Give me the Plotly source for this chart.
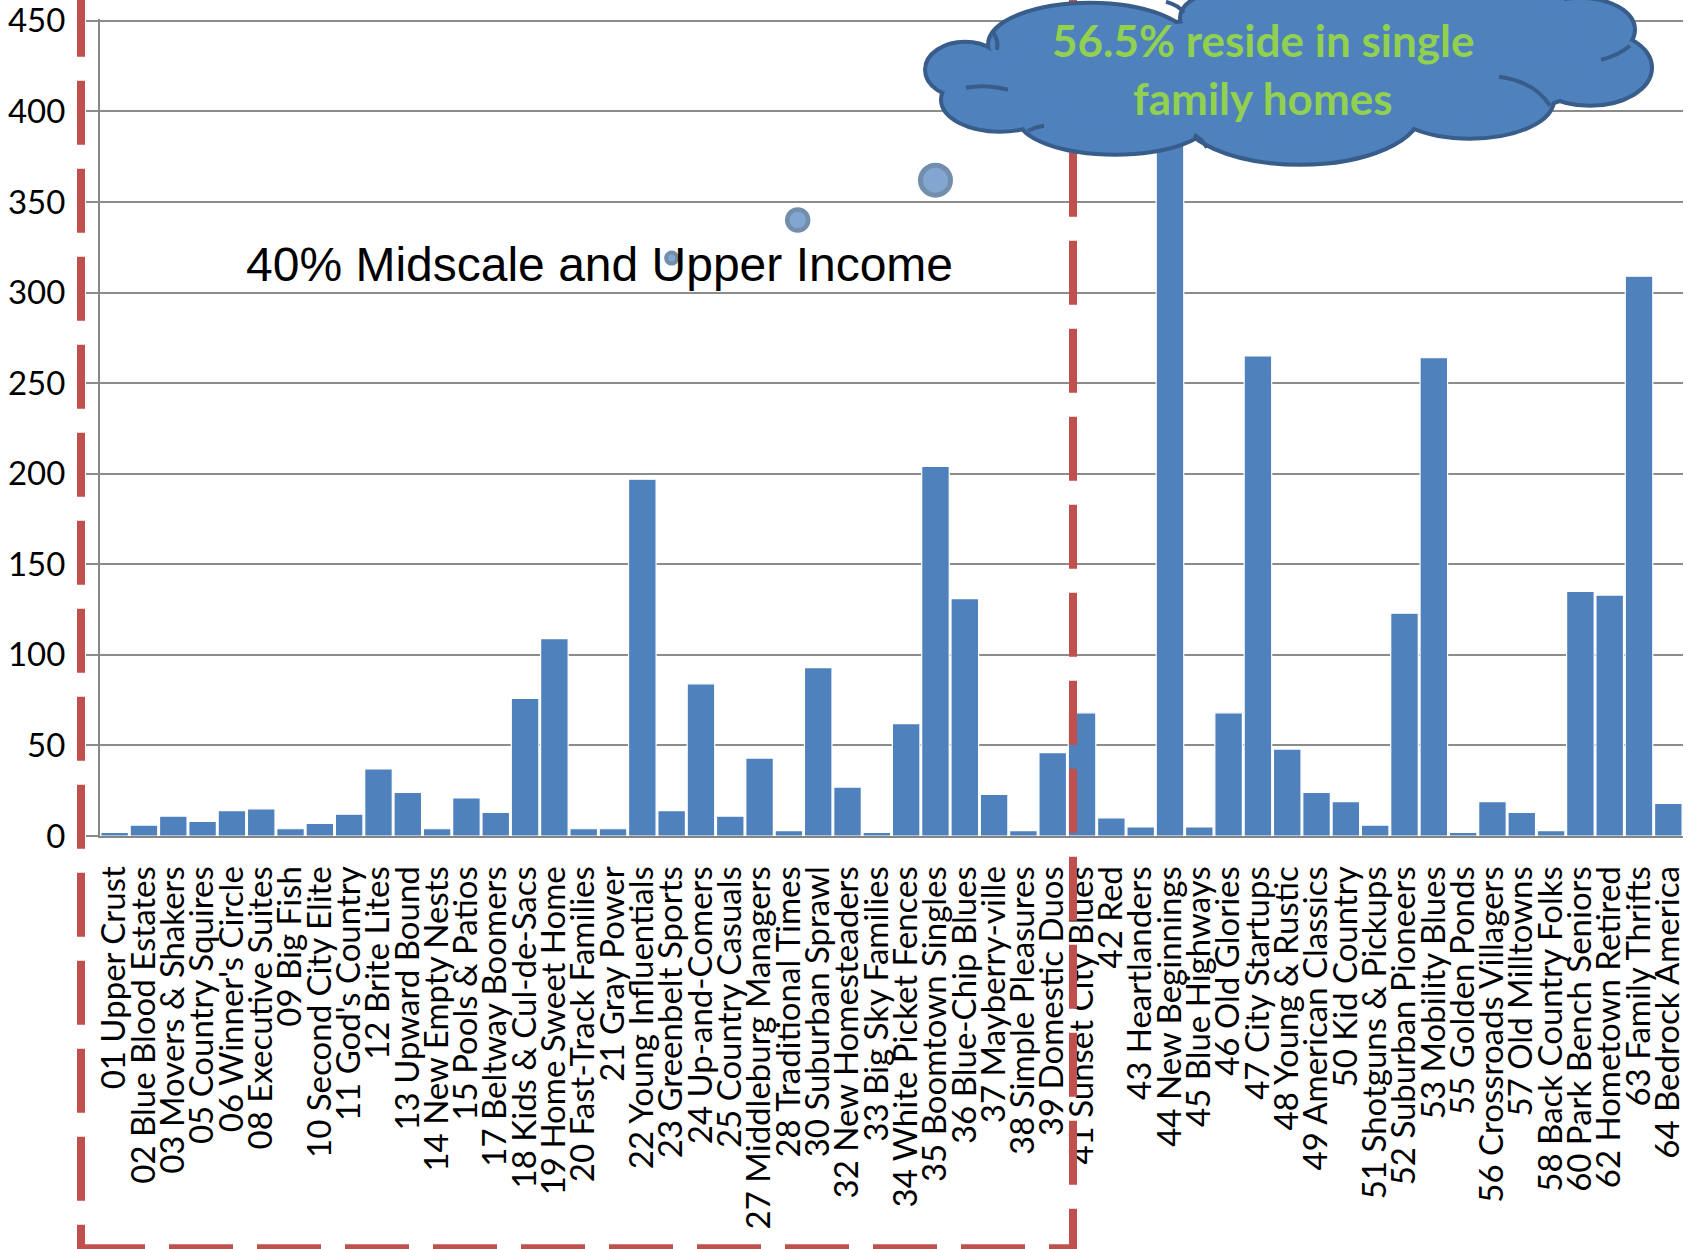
import plotly.graph_objects as go

# ---------------- data ----------------
segments = [
    "01 Upper Crust", "02 Blue Blood Estates", "03 Movers & Shakers", "05 Country Squires",
    "06 Winner's Circle", "08 Executive Suites", "09 Big Fish", "10 Second City Elite",
    "11 God's Country", "12 Brite Lites", "13 Upward Bound", "14 New Empty Nests",
    "15 Pools & Patios", "17 Beltway Boomers", "18 Kids & Cul-de-Sacs", "19 Home Sweet Home",
    "20 Fast-Track Families", "21 Gray Power", "22 Young Influentials", "23 Greenbelt Sports",
    "24 Up-and-Comers", "25 Country Casuals", "27 Middleburg Managers", "28 Traditional Times",
    "30 Suburban Sprawl", "32 New Homesteaders", "33 Big Sky Families", "34 White Picket Fences",
    "35 Boomtown Singles", "36 Blue-Chip Blues", "37 Mayberry-ville", "38 Simple Pleasures",
    "39 Domestic Duos", "41 Sunset City Blues", "42 Red", "43 Heartlanders",
    "44 New Beginnings", "45 Blue Highways", "46 Old Glories", "47 City Startups",
    "48 Young & Rustic", "49 American Classics", "50 Kid Country", "51 Shotguns & Pickups",
    "52 Suburban Pioneers", "53 Mobility Blues", "55 Golden Ponds", "56 Crossroads Villagers",
    "57 Old Milltowns", "58 Back Country Folks", "60 Park Bench Seniors", "62 Hometown Retired",
    "63 Family Thrifts", "64 Bedrock America",
]
households = [
    2, 6, 11, 8, 14, 15, 4, 7, 12, 37,
    24, 4, 21, 13, 76, 109, 4, 4, 197, 14,
    84, 11, 43, 3, 93, 27, 2, 62, 204, 131,
    23, 3, 46, 68, 10, 5, 430, 5, 68, 265,
    48, 24, 19, 6, 123, 264, 2, 19, 13, 3,
    135, 133, 309, 18,
]
bubble_x = [19.0, 23.3, 28.0]
bubble_y = [319, 340, 362]
bubble_size = [11, 21, 30]
y_ticks = [0, 50, 100, 150, 200, 250, 300, 350, 400, 450]

left_label = "40% Midscale and Upper Income"
cloud_line1 = "56.5% reside in single"
cloud_line2 = "family homes"

# ---------------- geometry helpers ----------------
W, H = 1703, 1249
ML, MR, MT, MB = 100, 20, 19.2, 412.5
PW = W - ML - MR
PH = H - MT - MB


def px(x):
    return (x - ML) / PW


def py(y):
    return (H - MB - y) / PH


BLUE = "#4F81BD"
DARK = "#385D8A"
RED = "#C0504D"
GRID = "#8C8C8C"

fig = go.Figure()
fig.add_trace(go.Bar(
    x=list(range(len(segments))), y=households,
    marker=dict(color=BLUE, line=dict(color="white", width=1.2)),
    width=0.94, showlegend=False, hoverinfo="x+y",
))
fig.add_trace(go.Scatter(
    x=bubble_x, y=bubble_y, mode="markers",
    marker=dict(size=bubble_size, color=BLUE, line=dict(color=DARK, width=[4, 4.5, 5])),
    showlegend=False, cliponaxis=False,
))

shapes = []
# red dashed frame
dash = "64px,24px"
shapes.append(dict(type="line", xref="paper", yref="paper", x0=px(81), x1=px(81), y0=py(-7), y1=py(1253),
                   line=dict(color=RED, width=8, dash=dash)))
shapes.append(dict(type="line", xref="paper", yref="paper", x0=px(81), x1=px(1077), y0=py(1249), y1=py(1249),
                   line=dict(color=RED, width=8, dash=dash)))
shapes.append(dict(type="line", xref="paper", yref="paper", x0=px(1073), x1=px(1073), y0=py(-23), y1=py(1253),
                   line=dict(color=RED, width=8, dash=dash)))

# cloud made of ellipses: stroke layer, then fill layer
lobes = [
    (965, 70, 38, 26), (1000, 100, 57, 30), (1115, 118, 95, 35), (1300, 110, 120, 53),
    (1470, 100, 82, 37), (1590, 68, 60, 36), (1580, 30, 53, 30), (1090, 45, 100, 40),
    (1242, 18, 60, 28), (1357, 12, 62, 30), (1490, 12, 80, 30), (1290, 75, 300, 55),
    (1380, 30, 200, 40),
]
for cx, cy, rx, ry in lobes:
    shapes.append(dict(type="circle", xref="paper", yref="paper",
                       x0=px(cx - rx), x1=px(cx + rx), y0=py(cy + ry), y1=py(cy - ry),
                       fillcolor=BLUE, line=dict(color=DARK, width=8)))
for cx, cy, rx, ry in lobes:
    shapes.append(dict(type="circle", xref="paper", yref="paper",
                       x0=px(cx - rx), x1=px(cx + rx), y0=py(cy + ry), y1=py(cy - ry),
                       fillcolor=BLUE, line=dict(width=0)))
inner_arcs = [
    ((992, 31), (999, 40), (997, 50)),
    ((1166, 2), (1178, 5), (1184, 13)),
    ((1601, 60), (1618, 56), (1630, 46)),
    ((1499, 77), (1535, 82), (1550, 106)),
    ((1194, 135), (1202, 139), (1207, 148)),
    ((1028, 131), (1036, 127), (1044, 126)),
    ((966, 88), (985, 84), (1008, 90)),
]
for (x0, y0), (cx, cy), (x1, y1) in inner_arcs:
    path = f"M {px(x0)},{py(y0)} Q {px(cx)},{py(cy)} {px(x1)},{py(y1)}"
    shapes.append(dict(type="path", xref="paper", yref="paper", path=path,
                       line=dict(color=DARK, width=4)))

annotations = [
    dict(text=left_label, xref="paper", yref="paper", x=px(244), y=py(264.5),
         xanchor="left", yanchor="middle", showarrow=False,
         font=dict(family="Liberation Sans, Arial", size=48, color="black")),
    dict(text=f"<b>{cloud_line1}</b>", xref="paper", yref="paper", x=px(1263), y=py(40),
         xanchor="center", yanchor="middle", showarrow=False,
         font=dict(family="Lato", size=44, color="#92D050")),
    dict(text=f"<b>{cloud_line2}</b>", xref="paper", yref="paper", x=px(1263), y=py(98),
         xanchor="center", yanchor="middle", showarrow=False,
         font=dict(family="Lato", size=44, color="#92D050")),
]

fig.update_layout(
    width=W, height=H,
    margin=dict(l=ML, r=MR, t=MT, b=MB, pad=0, autoexpand=False),
    paper_bgcolor="white", plot_bgcolor="white",
    bargap=0.06,
    shapes=shapes, annotations=annotations,
    xaxis=dict(
        range=[-0.5, len(segments) - 0.5], tickmode="array",
        tickvals=list(range(len(segments))), ticktext=segments,
        tickangle=-90, tickfont=dict(family="Lato", size=33, color="black"),
        showgrid=False, zeroline=False, showline=True, linecolor="#868686", linewidth=2,
        ticks="", ticklabelstandoff=15, automargin=False, ticklabeloverflow="allow",
    ),
    yaxis=dict(
        range=[0, 451], tickmode="array", tickvals=y_ticks,
        tickfont=dict(family="Lato", size=33, color="black"),
        showgrid=True, gridcolor=GRID, gridwidth=1.6, zeroline=False,
        showline=True, linecolor="#868686", linewidth=2,
        ticks="outside", ticklen=12, tickcolor=GRID, tickwidth=1.6,
        ticklabelstandoff=14, automargin=False, ticklabeloverflow="allow",
    ),
)

fig.write_html("out.html")
